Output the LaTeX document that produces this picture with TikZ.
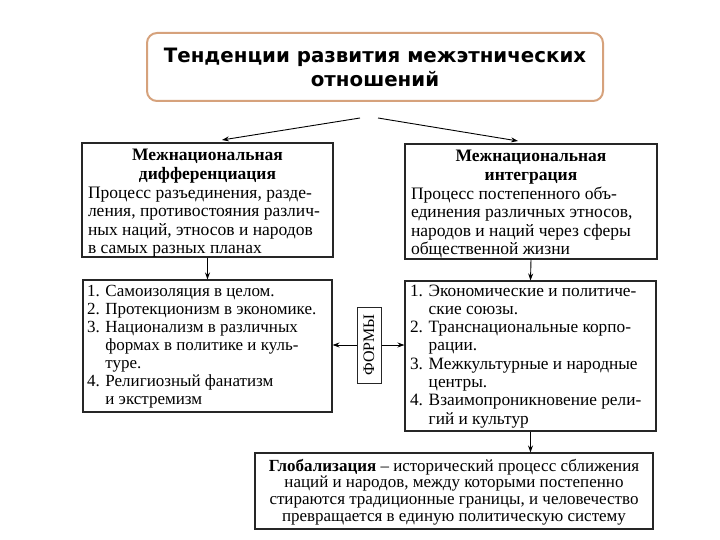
\documentclass[tikz,border=0pt]{standalone}
\usepackage{fontspec}
\setmainfont{Liberation Serif}
\newfontfamily\titlefont{DejaVu Sans}
\usetikzlibrary{arrows.meta}
\definecolor{tanline}{HTML}{D6A27C}
\newcommand{\ind}{\phantom{1. }}
\newcommand{\fsz}[2]{\fontsize{#1}{#2}\selectfont\lineskiplimit=-10pt\relax}
\begin{document}
\begin{tikzpicture}[x=1pt,y=-1pt,
  box/.style={draw=black!85, line width=1.1pt, inner sep=0pt, align=flush left,
    font=\fsz{17.5}{18.3}},
  arr/.style={-{Stealth[length=7pt,width=5pt]}, line width=0.9pt},
  formsbox/.style={draw=black!85, line width=1pt, inner sep=0pt,
    font=\fsz{16}{17}}]
\useasboundingbox (0,0) rectangle (720,540);

\node[draw=tanline, line width=2pt, rounded corners=10pt, fill=white,
  minimum width=456pt, minimum height=68pt, inner sep=0pt, align=center,
  font=\titlefont\bfseries\fsz{19.8}{24}] (top) at (375,67)
  {Тенденции развития межэтнических\\отношений};

\node[box, minimum width=251pt, text width=239pt, text height=18pt, text depth=96pt] (diff) at (207.5,200)
  {{\centering\bfseries Межнациональная\\дифференциация\par}\vspace{1pt}Процесс разъединения, разде-\\ления, противостояния различ-\\ных наций, этносов и народов\\в самых разных планах};

\node[box, minimum width=252pt, text width=240pt, text height=18pt, text depth=97pt] (integ) at (531,201.5)
  {{\centering\bfseries Межнациональная\\интеграция\par}\vspace{1pt}Процесс постепенного объ-\\единения различных этносов,\\народов и наций через сферы\\общественной жизни};

\node[box, minimum width=249pt, text width=241pt, text height=16pt, text depth=116pt,
  font=\fsz{17}{18.1}] (formsL) at (207.5,346)
  {1. Самоизоляция в целом.\\2. Протекционизм в экономике.\\3. Национализм в различных\\\ind формах в политике и куль-\\\ind туре.\\4. Религиозный фанатизм\\\ind и экстремизм};

\node[box, minimum width=251pt, text width=241pt, text height=15pt, text depth=135pt,
  font=\fsz{17.3}{18.3}] (formsR) at (530.5,356)
  {1. Экономические и политиче-\\\ind ские союзы.\\2. Транснациональные корпо-\\\ind рации.\\3. Межкультурные и народные\\\ind центры.\\4. Взаимопроникновение рели-\\\ind гий и культур};

\node[formsbox, rotate=90, minimum width=76pt, minimum height=24pt] (formy) at (369,345) {ФОРМЫ};

\node[box, align=flush center, minimum width=398pt, text width=392pt, text height=18pt, text depth=58pt,
  font=\fsz{17}{16.8}] (glob) at (454,491)
  {{\bfseries Глобализация} – исторический процесс сближения\\наций и народов, между которыми постепенно\\стираются традиционные границы, и человечество\\превращается в единую политическую систему};

\coordinate (s1) at (360,118);
\coordinate (s2) at (378,118);
\coordinate (e1) at (222,140);
\coordinate (e2) at (518,141);
\draw[arr] (s1) -- (e1);
\draw[arr] (s2) -- (e2);
\draw[arr] (diff.south) -- (formsL.north);
\draw[arr] (integ.south) -- (formsR.north);
\draw[arr] (formsR.south) -- (formsR.south |- glob.north);
\draw[arr] (formy.north) -- (formy.north -| formsL.east);
\draw[arr] (formy.south) -- (formy.south -| formsR.west);
\end{tikzpicture}
\end{document}
